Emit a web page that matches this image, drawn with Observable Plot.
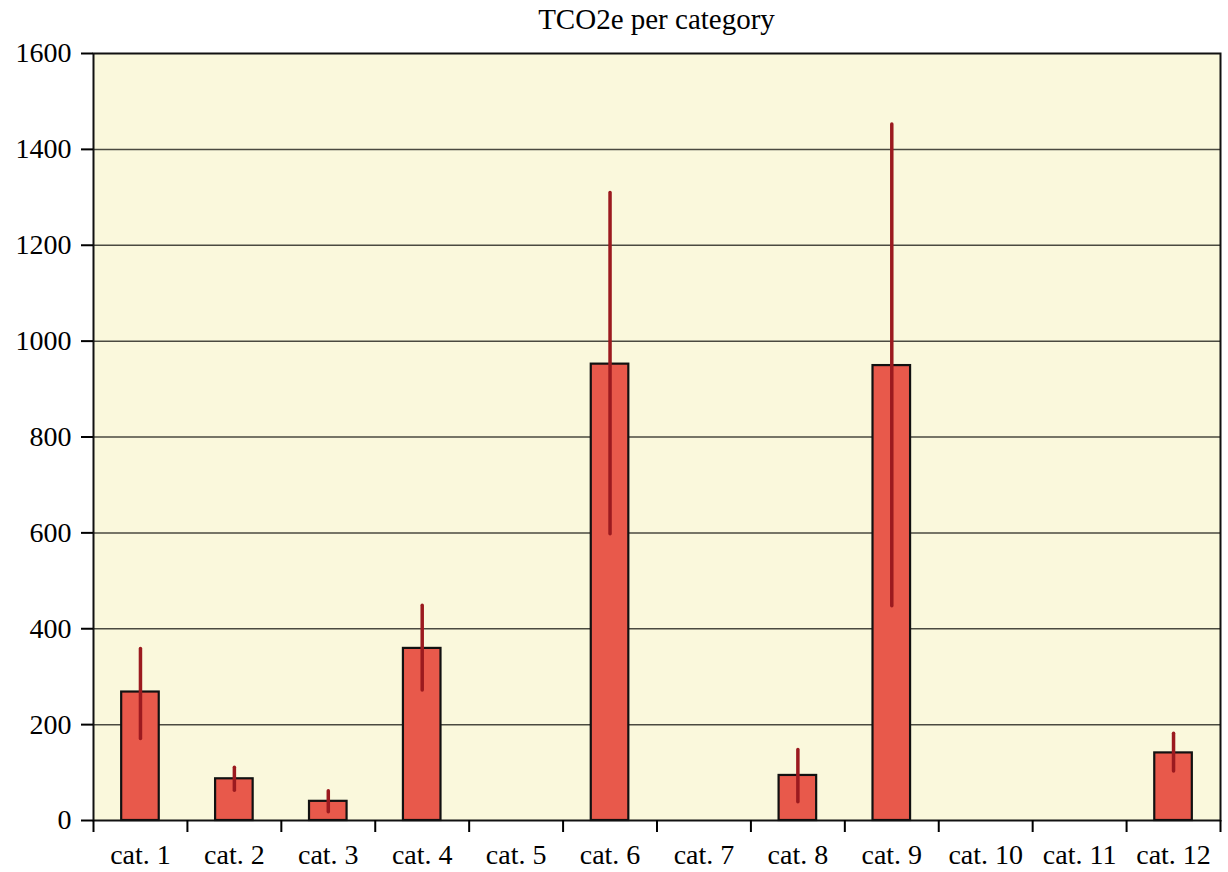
<!DOCTYPE html>
<html><head><meta charset="utf-8">
<script src="https://cdn.jsdelivr.net/npm/d3@7"></script>
<script src="https://cdn.jsdelivr.net/npm/@observablehq/plot@0.6"></script>
<style>
body{margin:0;background:#fff;font-family:"Liberation Serif",serif}
#title{box-sizing:border-box;width:1228px;height:38px;line-height:38px;text-align:center;font-size:29px;padding-left:93px;padding-right:8px;color:#000}
</style></head><body>
<div id="title">TCO2e per category</div>
<div id="chart"></div>
<script>
const categories = ["cat. 1","cat. 2","cat. 3","cat. 4","cat. 5","cat. 6","cat. 7","cat. 8","cat. 9","cat. 10","cat. 11","cat. 12"];
const values  = [268, 87, 40, 359, 0, 952, 0, 94, 949, 0, 0, 141];
const errLow  = [170, 62, 17, 271, null, 597, null, 38, 447, null, null, 102];
const errHigh = [358, 110, 61, 448, null, 1309, null, 147, 1452, null, null, 181];
const yTicks = [0, 200, 400, 600, 800, 1000, 1200, 1400, 1600];

const data = categories.map((c, i) => ({category: c, value: values[i], lo: errLow[i], hi: errHigh[i]}));
const W = 1228, H = 834, mL = 93, mR = 8, mT = 15, mB = 52;
const step = (W - mL - mR) / categories.length;

const chart = Plot.plot({
  width: W, height: H, marginLeft: mL, marginRight: mR, marginTop: mT, marginBottom: mB,
  style: {fontFamily: "Liberation Serif, serif", fontSize: "28px", color: "#000", background: "#fff", overflow: "visible"},
  x: {domain: categories, paddingInner: 0.6, paddingOuter: 0.3, round: false, label: null},
  y: {domain: [0, 1600], label: null},
  marks: [
    Plot.frame({fill: "#faf8dc", stroke: null}),
    Plot.ruleY(yTicks.slice(1, -1), {stroke: "#4a4a40", strokeWidth: 1.5}),
    Plot.barY(data.filter(d => d.value > 0), {x: "category", y: "value", fill: "#e8594b", stroke: "#111", strokeWidth: 2.2}),
    Plot.ruleX(data.filter(d => d.hi != null), {x: "category", y1: "lo", y2: "hi", stroke: "#9b1a1f", strokeWidth: 3.5, strokeLinecap: "round"}),
    Plot.frame({stroke: "#111", strokeWidth: 2}),
    Plot.axisY({ticks: yTicks, tickSize: 12, tickPadding: 10, strokeWidth: 2, fontSize: 28, tickFormat: d => String(d)}),
    Plot.axisX({tickSize: 0, tickPadding: 24, fontSize: 28}),
    Plot.axisX({tickSize: 12, tickFormat: () => "", dx: -step / 2, strokeWidth: 2}),
    Plot.axisX({ticks: [categories[categories.length - 1]], tickSize: 12, tickFormat: () => "", dx: step / 2, strokeWidth: 2})
  ]
});
document.getElementById("chart").appendChild(chart);
</script>
</body></html>
